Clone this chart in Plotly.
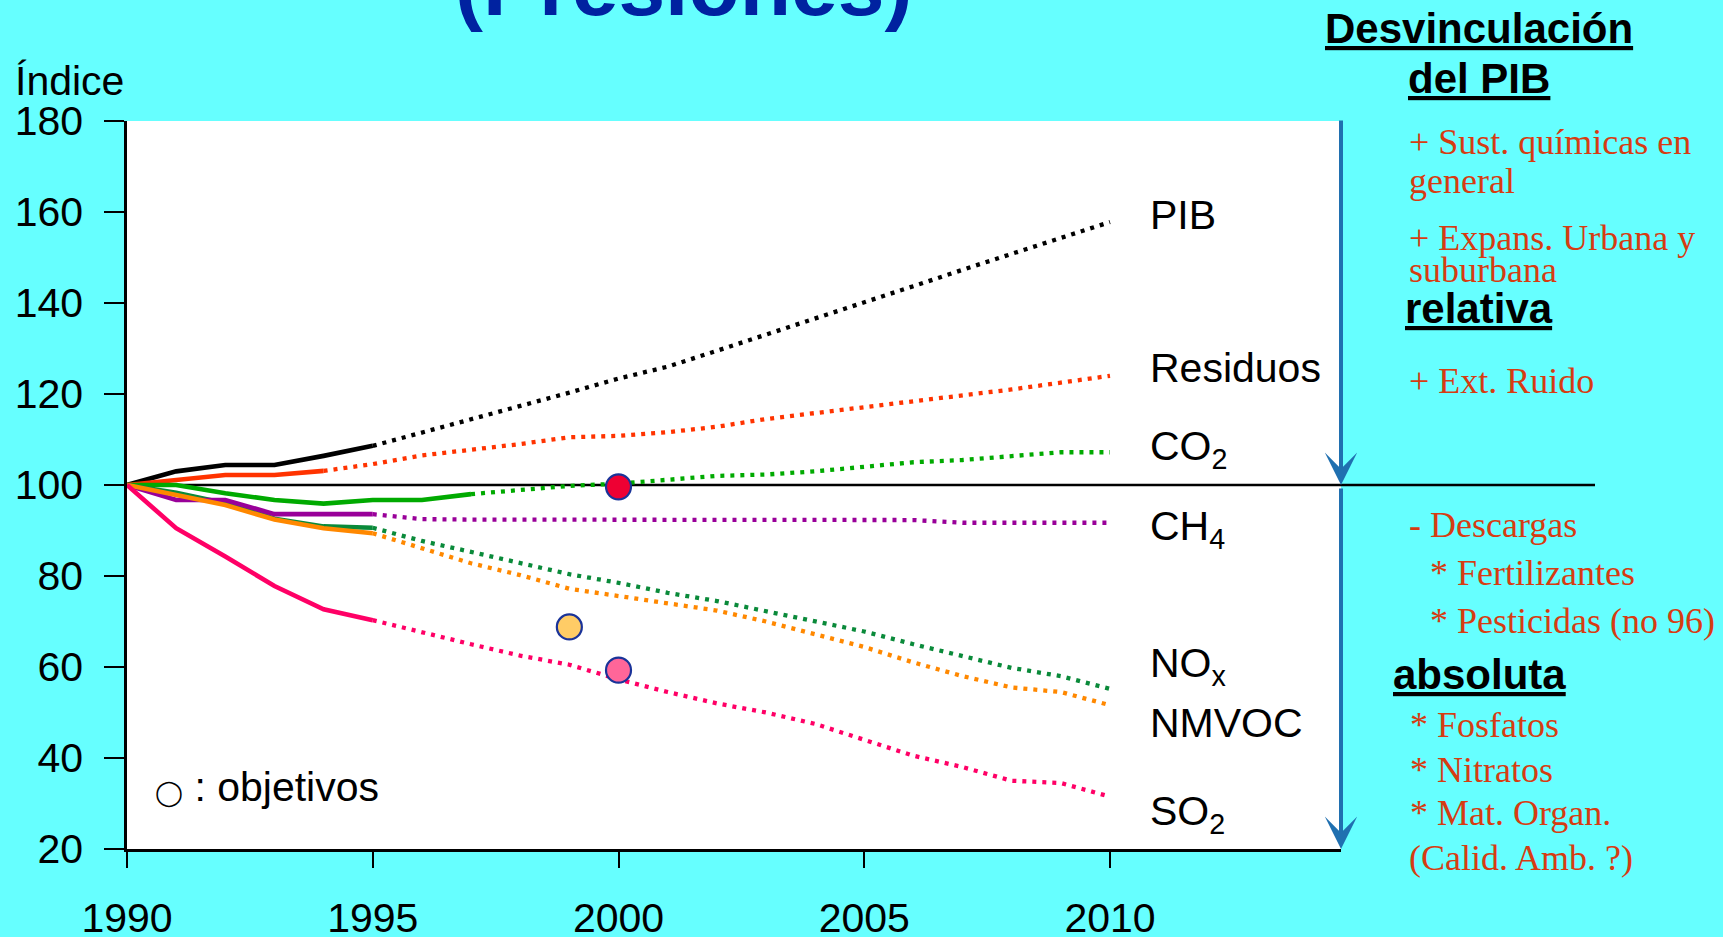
import plotly.graph_objects as go

# ---------------- data ----------------
years = list(range(1990, 2011))

pib      = [100, 103.0, 104.4, 104.4, 106.4, 108.6, 111.5, 114.4, 117.4, 120.3, 123.4,
            126.0, 129.5, 133.0, 136.6, 140.1, 143.7, 147.3, 150.8, 154.4, 157.8]
residuos = [100, 101.1, 102.2, 102.2, 103.1, 104.6, 106.5, 107.7, 109.0, 110.5, 110.8,
            111.6, 112.8, 114.5, 115.8, 117.2, 118.5, 119.6, 121.0, 122.5, 124.0]
co2      = [100, 100.0, 98.2, 96.7, 95.9, 96.7, 96.7, 98.0, 99.0, 99.8, 100.3,
            101.2, 102.0, 102.3, 103.0, 104.0, 105.0, 105.5, 106.3, 107.2, 107.2]
ch4      = [100, 96.7, 96.7, 93.6, 93.6, 93.6, 92.5, 92.4, 92.4, 92.4, 92.4,
            92.4, 92.4, 92.4, 92.4, 92.4, 92.3, 91.7, 91.7, 91.7, 91.7]
nox      = [100, 98.3, 96.0, 92.6, 90.9, 90.6, 87.7, 85.3, 82.8, 80.4, 78.5,
            76.3, 74.5, 72.3, 70.0, 67.8, 65.0, 62.5, 59.8, 58.0, 55.2]
nmvoc    = [100, 97.8, 95.6, 92.4, 90.5, 89.4, 86.0, 82.8, 80.2, 77.2, 75.6,
            74.0, 72.4, 70.0, 67.2, 64.4, 61.0, 58.0, 55.5, 54.5, 51.6]
so2      = [100, 90.5, 84.3, 77.8, 72.7, 70.3, 67.6, 65.0, 62.5, 60.5, 57.3,
            54.5, 52.0, 50.0, 47.5, 44.0, 40.5, 38.0, 35.0, 34.5, 31.5]

series_names  = ["PIB", "Residuos", "CO<sub>2</sub>", "CH<sub>4</sub>",
                 "NO<sub>x</sub>", "NMVOC", "SO<sub>2</sub>"]
series_values = [pib, residuos, co2, ch4, nox, nmvoc, so2]
series_colors = ["#000000", "#ff3300", "#00aa00", "#990099", "#0a8a3a", "#ff8800", "#ff0066"]
last_observed = [1995, 1994, 1997, 1995, 1995, 1995, 1995]
label_y       = [159.3, 125.8, 108.0, 90.3, 60.3, 47.8, 27.8]

target_years  = [2000, 1999, 2000]
target_values = [99.6, 68.8, 59.3]
target_colors = ["#ee0033", "#ffcc66", "#ff6699"]

x_ticks = [1990, 1995, 2000, 2005, 2010]
y_ticks = [20, 40, 60, 80, 100, 120, 140, 160, 180]

# ---------------- geometry helpers (layout only) ----------------
W, H = 1723, 937
L, R, T, B = 127, 382, 121, 88
PW, PH = W - L - R, H - T - B


def px(xp):
    return (xp - L) / PW


def py(yp):
    return (H - B - yp) / PH


SANS = "Liberation Sans, Arial, sans-serif"
SERIF = "Liberation Serif, Times New Roman, serif"
RED = "#d63c12"

fig = go.Figure()

# series: dotted projection + solid observed part
order = [0, 1, 2, 4, 3, 5, 6]
for i in order:
    vals = series_values[i]
    cut = years.index(last_observed[i])
    fig.add_trace(go.Scatter(x=years[cut:], y=vals[cut:], mode="lines",
                             line=dict(color=series_colors[i], width=4.3, dash="4px,6px"),
                             showlegend=False, hoverinfo="skip"))
for i in order:
    vals = series_values[i]
    cut = years.index(last_observed[i])
    fig.add_trace(go.Scatter(x=years[:cut + 1], y=vals[:cut + 1], mode="lines",
                             line=dict(color=series_colors[i], width=4.6),
                             showlegend=False, hoverinfo="skip"))

# targets
fig.add_trace(go.Scatter(x=target_years, y=target_values, mode="markers",
                         marker=dict(size=25, color=target_colors,
                                     line=dict(color="#1a3399", width=2.2)),
                         showlegend=False, hoverinfo="skip", cliponaxis=False))

annotations = []
# series labels
for name, ly in zip(series_names, label_y):
    annotations.append(dict(x=2010.78, y=ly, xref="x", yref="y", text=name,
                            showarrow=False, xanchor="left", yanchor="middle",
                            font=dict(family=SANS, size=41, color="#000000")))

# Title (cut off at top)
annotations.append(dict(x=px(684), y=py(-14), xref="paper", yref="paper",
                        text="<b>(Presiones)</b>", showarrow=False,
                        xanchor="center", yanchor="middle",
                        font=dict(family=SANS, size=84, color="#0022a0")))
# Índice
annotations.append(dict(x=px(13), y=py(81), xref="paper", yref="paper",
                        text="Índice", showarrow=False, xanchor="left", yanchor="middle",
                        font=dict(family=SANS, size=41, color="#000000")))
# objetivos legend
annotations.append(dict(x=px(153), y=py(787), xref="paper", yref="paper",
                        text="<span style='font-size:25px'>◯</span> : objetivos",
                        showarrow=False, xanchor="left", yanchor="middle",
                        font=dict(family=SANS, size=41, color="#000000")))

# headers (bold underlined)
for txt, yc in [("Desvinculación", 28), ("del PIB", 78), ("relativa", 308), ("absoluta", 674)]:
    annotations.append(dict(x=px(1479), y=py(yc), xref="paper", yref="paper",
                            text="<b><u>" + txt + "</u></b>", showarrow=False,
                            xanchor="center", yanchor="middle",
                            font=dict(family=SANS, size=42, color="#000000")))

# red serif notes
notes = [("+ Sust. químicas en", 1407, 142), ("general", 1407, 181),
         ("+ Expans. Urbana y", 1407, 238), ("suburbana", 1407, 270),
         ("+ Ext. Ruido", 1407, 381),
         ("- Descargas", 1407, 525), ("* Fertilizantes", 1428, 573),
         ("* Pesticidas (no 96)", 1428, 621),
         ("* Fosfatos", 1408, 725), ("* Nitratos", 1408, 770),
         ("* Mat. Organ.", 1408, 813), ("(Calid. Amb. ?)", 1407, 858)]
for txt, xl, yc in notes:
    annotations.append(dict(x=px(xl), y=py(yc), xref="paper", yref="paper",
                            text=txt, showarrow=False, xanchor="left", yanchor="middle",
                            font=dict(family=SERIF, size=36, color=RED)))

# blue arrows
ARROW = "#2070b0"
annotations.append(dict(x=1.0, y=0.5, xref="paper", yref="paper", text="",
                        showarrow=True, ax=0, ay=-366, arrowhead=3, arrowsize=1.35,
                        arrowwidth=4, arrowcolor=ARROW, standoff=0))
annotations.append(dict(x=1.0, y=0.0, xref="paper", yref="paper", text="",
                        showarrow=True, ax=0, ay=-362, arrowhead=3, arrowsize=1.35,
                        arrowwidth=4, arrowcolor=ARROW, standoff=0))

shapes = [dict(type="line", xref="paper", yref="y", x0=0, x1=px(1595), y0=100, y1=100,
               line=dict(color="#000000", width=2.5), layer="below")]

fig.update_layout(
    width=W, height=H, autosize=False,
    margin=dict(l=L, r=R, t=T, b=B, pad=0, autoexpand=False),
    paper_bgcolor="#66ffff", plot_bgcolor="#ffffff",
    annotations=annotations, shapes=shapes,
    xaxis=dict(range=[1990, 1990 + (1341 - 127) / 49.15], tickvals=x_ticks,
               ticks="outside", ticklen=16, tickwidth=2, tickcolor="#000",
               showline=True, linecolor="#000", linewidth=2.5, showgrid=False,
               zeroline=False, ticklabelstandoff=15, automargin=False,
               tickfont=dict(family=SANS, size=41, color="#000")),
    yaxis=dict(range=[20, 180], tickvals=y_ticks,
               ticks="outside", ticklen=20, tickwidth=2, tickcolor="#000",
               showline=True, linecolor="#000", linewidth=2.5, showgrid=False,
               zeroline=False, ticklabelstandoff=13, automargin=False,
               tickfont=dict(family=SANS, size=41, color="#000")),
)

fig.write_html("out.html", config={"displayModeBar": False},
               post_script="document.body.style.margin='0';document.body.style.overflow='hidden';")
